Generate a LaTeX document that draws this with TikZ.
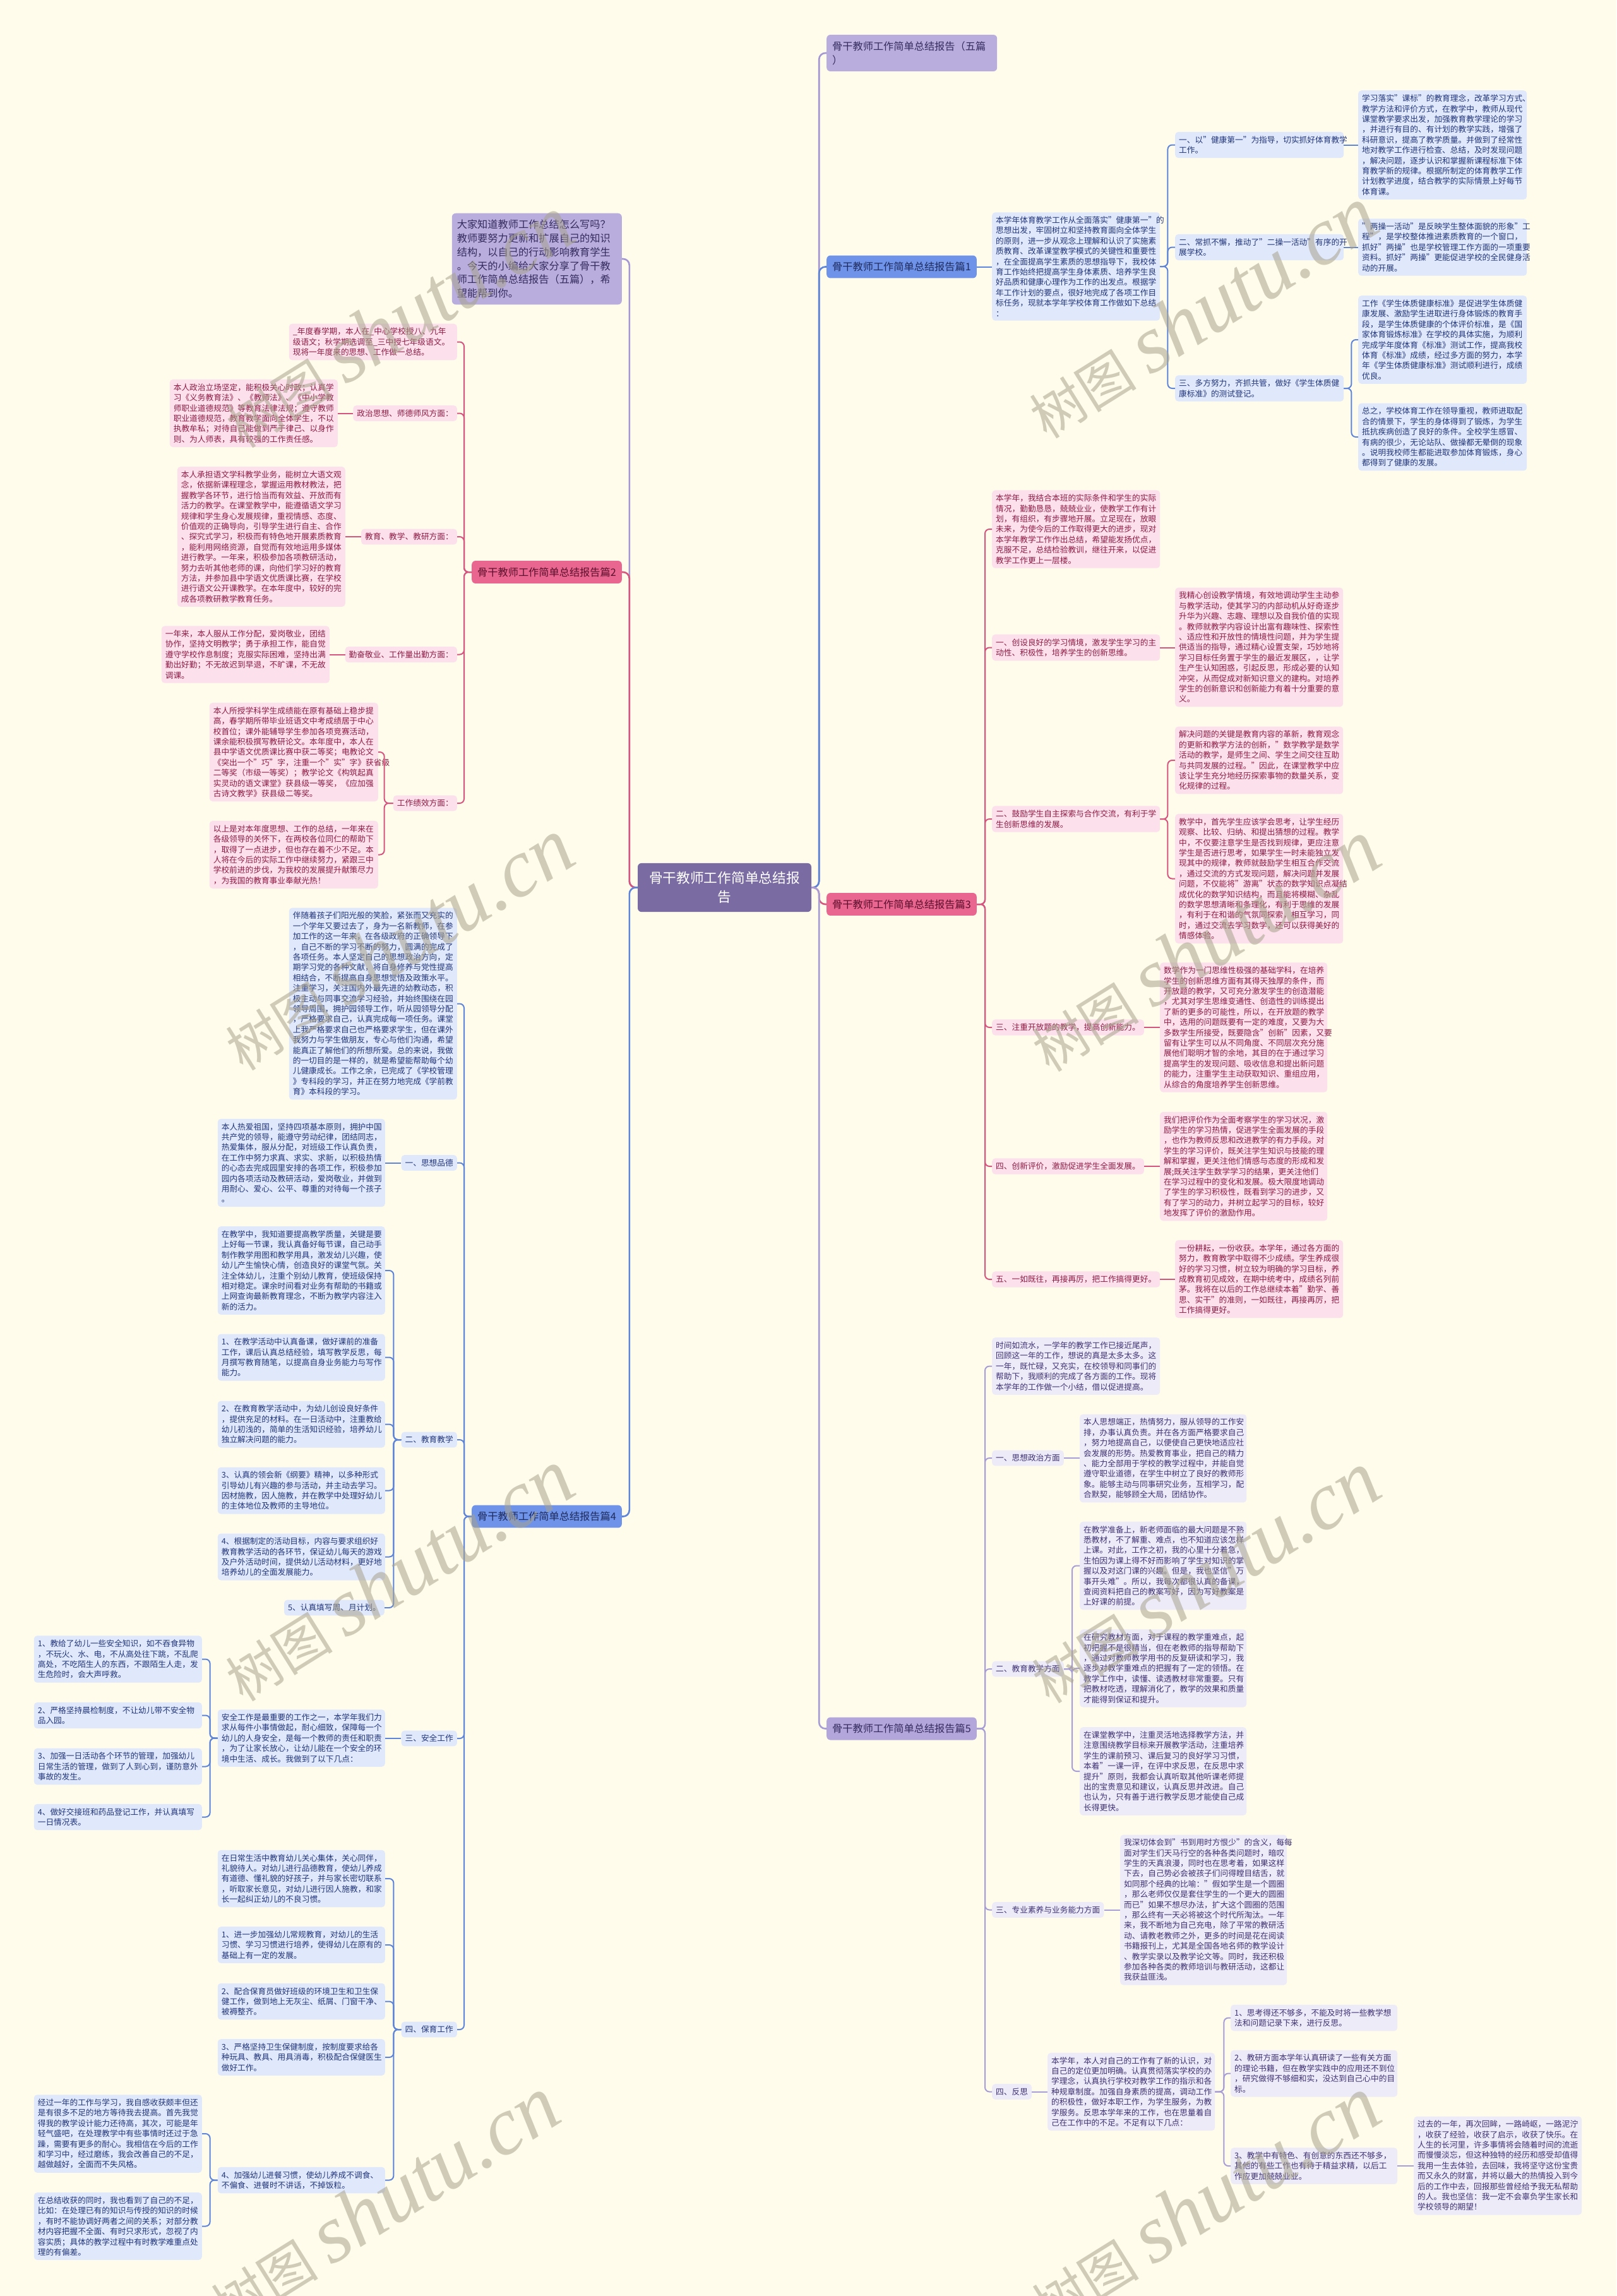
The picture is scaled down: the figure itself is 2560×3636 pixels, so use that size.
\documentclass[tikz,border=0pt]{standalone}
\usepackage{fontspec}
\setmainfont{Noto Sans CJK SC}
\newfontfamily\wmlat{Liberation Serif}
\definecolor{bg}{HTML}{FFFCEB}
\definecolor{rootc}{HTML}{7A6BA2}
\definecolor{pubr}{HTML}{B8ADDC}
\definecolor{pubrt}{HTML}{352B5E}
\definecolor{p5br}{HTML}{B3A6DB}
\definecolor{blbr}{HTML}{6E93E8}
\definecolor{blbrt}{HTML}{1F2B5E}
\definecolor{pkbr}{HTML}{E8668F}
\definecolor{pkbrt}{HTML}{5C0F2C}
\definecolor{pkfill}{HTML}{FCE0EB}
\definecolor{pktext}{HTML}{8E1C46}
\definecolor{blfill}{HTML}{E0E8FB}
\definecolor{bltext}{HTML}{22367A}
\definecolor{pufill}{HTML}{EEEBF9}
\definecolor{putext}{HTML}{3E3272}
\definecolor{cpu}{HTML}{A497D3}
\definecolor{cpk}{HTML}{D6557F}
\definecolor{cbl}{HTML}{5E85D8}
\definecolor{cp5}{HTML}{A89ED6}
\definecolor{wmc}{HTML}{A8A38E}
\tikzset{
  box/.style={rounded corners=5pt, align=left, inner xsep=6pt, inner ysep=6.5pt, font=\fontsize{12.7pt}{16.4pt}\selectfont},
  pkd/.style={box, fill=pkfill, text=pktext},
  bld/.style={box, fill=blfill, text=bltext},
  pud/.style={box, fill=pufill, text=putext},
  brn/.style={rounded corners=6pt, align=left, inner xsep=9pt, inner ysep=10.4pt, font=\fontsize{16.2pt}{21.7pt}\selectfont},
  ea/.style={anchor=east},
  we/.style={anchor=west},
  tw/.style={text width=#1},
  conn/.style={line width=2pt, rounded corners=7pt},
  mainc/.style={line width=2.6pt, rounded corners=10pt},
  wm/.style={text=wmc, text opacity=0.55, anchor=base west, rotate=32, inner sep=0pt}
}
\newcommand{\wmark}{{\fontsize{85pt}{85pt}\selectfont 树图}\hspace{22pt}{\wmlat\itshape\fontsize{130pt}{130pt}\selectfont shutu.cn}}
\begin{document}
\begin{tikzpicture}[x=1pt,y=-1pt]
\fill[bg] (0,0) rectangle (2560,3636);
\useasboundingbox (0,0) rectangle (2560,3636);

% ---------- root ----------
\node[rounded corners=6pt, fill=rootc, text=white, font=\fontsize{21.7pt}{30pt}\selectfont, align=center, text width=241pt, inner xsep=17pt, inner ysep=13.5pt] (root) at (1147.5,1405.5) {骨干教师工作简单总结报\\告};

% ---------- left level 1 ----------
\node[brn, fill=pubr, text=pubrt, ea, tw=253pt, inner xsep=8pt, inner ysep=10.5pt] (intro) at (985,410) {大家知道教师工作总结怎么写吗？\\教师要努力更新和扩展自己的知识\\结构，以自己的行动影响教育学生\\。今天的小编给大家分享了骨干教\\师工作简单总结报告（五篇），希\\望能帮到你。};
\node[brn, fill=pkbr, text=pkbrt, ea] (p2) at (985,906) {骨干教师工作简单总结报告篇2};
\node[brn, fill=blbr, text=blbrt, ea] (p4) at (985,2401.5) {骨干教师工作简单总结报告篇4};

% ---------- right level 1 ----------
\node[brn, fill=pubr, text=pubrt, we, tw=252pt] (t5) at (1309,84) {骨干教师工作简单总结报告（五篇\\）};
\node[brn, fill=blbr, text=blbrt, we] (p1) at (1309,422.5) {骨干教师工作简单总结报告篇1};
\node[brn, fill=pkbr, text=pkbrt, we] (p3) at (1309,1432) {骨干教师工作简单总结报告篇3};
\node[brn, fill=p5br, text=pubrt, we] (p5) at (1309,2737.5) {骨干教师工作简单总结报告篇5};

% ---------- 篇2 ----------
\node[pkd, ea, tw=254pt] (p2a) at (724,541.5) {\_年度春学期，本人在\_中心学校授八、九年\\级语文；秋学期选调至\_三中授七年级语文。\\现将一年度来的思想、工作做一总结。};
\node[pkd, ea] (p2b) at (724,654.5) {政治思想、师德师风方面：};
\node[pkd, ea, tw=254pt] (p2b1) at (535,654.5) {本人政治立场坚定，能积极关心时政；认真学\\习《义务教育法》、《教师法》、《中小学教\\师职业道德规范》等教育法律法规；遵守教师\\职业道德规范，教育教学面向全体学生，不以\\执教牟私；对待自己能做到严于律己、以身作\\则、为人师表，具有较强的工作责任感。};
\node[pkd, ea] (p2c) at (724,850) {教育、教学、教研方面：};
\node[pkd, ea, tw=254pt] (p2c1) at (547,850) {本人承担语文学科教学业务，能树立大语文观\\念，依据新课程理念，掌握运用教材教法，把\\握教学各环节，进行恰当而有效益、开放而有\\活力的教学。在课堂教学中，能遵循语文学习\\规律和学生身心发展规律，重视情感、态度、\\价值观的正确导向，引导学生进行自主、合作\\、探究式学习，积极而有特色地开展素质教育\\，能利用网络资源，自觉而有效地运用多媒体\\进行教学。一年来，积极参加各项教研活动，\\努力去听其他老师的课，向他们学习好的教育\\方法，并参加县中学语文优质课比赛，在学校\\进行语文公开课教学。在本年度中，较好的完\\成各项教研教学教育任务。};
\node[pkd, ea] (p2d) at (724,1036.5) {勤奋敬业、工作量出勤方面：};
\node[pkd, ea, tw=254pt] (p2d1) at (522,1036.5) {一年来，本人服从工作分配，爱岗敬业，团结\\协作，坚持文明教学；勇于承担工作，能自觉\\遵守学校作息制度；克服实际困难，坚持出满\\勤出好勤；不无故迟到早退，不旷课，不无故\\调课。};
\node[pkd, ea] (p2e) at (724,1272) {工作绩效方面：};
\node[pkd, ea, tw=255pt] (p2e1) at (599,1191) {本人所授学科学生成绩能在原有基础上稳步提\\高，春学期所带毕业班语文中考成绩居于中心\\校首位；课外能辅导学生参加各项竞赛活动，\\课余能积极撰写教研论文。本年度中，本人在\\县中学语文优质课比赛中获二等奖；电教论文\\《突出一个"巧"字，注重一个"实"字》获省级\\二等奖（市级一等奖）；教学论文《构筑起真\\实灵动的语文课堂》获县级一等奖，《应加强\\古诗文教学》获县级二等奖。};
\node[pkd, ea, tw=255pt] (p2e2) at (599,1353.5) {以上是对本年度思想、工作的总结，一年来在\\各级领导的关怀下，在两校各位同仁的帮助下\\，取得了一点进步，但也存在着不少不足。本\\人将在今后的实际工作中继续努力，紧跟三中\\学校前进的步伐，为我校的发展提升献策尽力\\，为我国的教育事业奉献光热！};

% ---------- 篇4 ----------
\node[bld, ea, tw=254pt] (p4a) at (724,1589.5) {伴随着孩子们阳光般的笑脸，紧张而又充实的\\一个学年又要过去了，身为一名新教师，在参\\加工作的这一年来，在各级政府的正确领导下\\，自己不断的学习不断的努力，圆满的完成了\\各项任务。本人坚定自己的思想政治方向，定\\期学习党的各种文献，将自身修养与党性提高\\相结合，不断提高自身思想觉悟及政策水平。\\注重学习，关注国内外最先进的幼教动态，积\\极主动与同事交流学习经验，并始终围绕在园\\领导周围，拥护园领导工作，听从园领导分配\\，严格要求自己，认真完成每一项任务。课堂\\上我严格要求自己也严格要求学生，但在课外\\我努力与学生做朋友，专心与他们沟通，希望\\能真正了解他们的所想所爱。总的来说，我做\\的一切目的是一样的，就是希望能帮助每个幼\\儿健康成长。工作之余，已完成了《学校管理\\》专科段的学习，并正在努力地完成《学前教\\育》本科段的学习。};
\node[bld, ea] (p4b) at (724,1841.5) {一、思想品德};
\node[bld, ea, tw=253pt] (p4b1) at (610,1841.5) {本人热爱祖国，坚持四项基本原则，拥护中国\\共产党的领导，能遵守劳动纪律，团结同志，\\热爱集体，服从分配，对班级工作认真负责，\\在工作中努力求真、求实、求新，以积极热情\\的心态去完成园里安排的各项工作，积极参加\\园内各项活动及教研活动，爱岗敬业，并做到\\用耐心、爱心、公平、尊重的对待每一个孩子\\。};
\node[bld, ea] (p4c) at (724,2280) {二、教育教学};
\node[bld, ea, tw=253pt] (p4c1) at (610,2012) {在教学中，我知道要提高教学质量，关键是要\\上好每一节课，我认真备好每节课，自己动手\\制作教学用图和教学用具，激发幼儿兴趣，使\\幼儿产生愉快心情，创造良好的课堂气氛。关\\注全体幼儿，注重个别幼儿教育，使班级保持\\相对稳定。课余时间看对业务有帮助的书籍或\\上网查询最新教育理念，不断为教学内容注入\\新的活力。};
\node[bld, ea, tw=253pt] (p4c2) at (610,2149.5) {1、在教学活动中认真备课，做好课前的准备\\工作，课后认真总结经验，填写教学反思，每\\月撰写教育随笔，以提高自身业务能力与写作\\能力。};
\node[bld, ea, tw=253pt] (p4c3) at (610,2255.5) {2、在教育教学活动中，为幼儿创设良好条件\\，提供充足的材料。在一日活动中，注重教给\\幼儿初浅的，简单的生活知识经验，培养幼儿\\独立解决问题的能力。};
\node[bld, ea, tw=253pt] (p4c4) at (610,2360.5) {3、认真的领会新《纲要》精神，以多种形式\\引导幼儿有兴趣的参与活动，并主动去学习。\\因材施教，因人施教，并在教学中处理好幼儿\\的主体地位及教师的主导地位。};
\node[bld, ea, tw=253pt] (p4c5) at (610,2465.5) {4、根据制定的活动目标，内容与要求组织好\\教育教学活动的各环节，保证幼儿每天的游戏\\及户外活动时间，提供幼儿活动材料，更好地\\培养幼儿的全面发展能力。};
\node[bld, ea] (p4c6) at (609,2546) {5、认真填写周、月计划。};
\node[bld, ea] (p4d) at (724,2753) {三、安全工作};
\node[bld, ea, tw=253pt] (p4d1) at (610,2752.5) {安全工作是最重要的工作之一，本学年我们力\\求从每件小事情做起，耐心细致，保障每一个\\幼儿的人身安全，是每一个教师的责任和职责\\，为了让家长放心，让幼儿能在一个安全的环\\境中生活、成长。我做到了以下几点：};
\node[bld, ea, tw=254pt] (p4d1a) at (320,2627.5) {1、教给了幼儿一些安全知识，如不吞食异物\\，不玩火、水、电，不从高处往下跳，不乱爬\\高处，不吃陌生人的东西，不跟陌生人走，发\\生危险时，会大声呼救。};
\node[bld, ea, tw=254pt] (p4d1b) at (320,2716.5) {2、严格坚持晨检制度，不让幼儿带不安全物\\品入园。};
\node[bld, ea, tw=254pt] (p4d1c) at (320,2797.5) {3、加强一日活动各个环节的管理，加强幼儿\\日常生活的管理，做到了人到心到，谨防意外\\事故的发生。};
\node[bld, ea, tw=254pt] (p4d1d) at (320,2877.5) {4、做好交接班和药品登记工作，并认真填写\\一日情况表。};
\node[bld, ea] (p4e) at (724,3214) {四、保育工作};
\node[bld, ea, tw=253pt] (p4e1) at (610,2975) {在日常生活中教育幼儿关心集体，关心同伴，\\礼貌待人。对幼儿进行品德教育，使幼儿养成\\有道德、懂礼貌的好孩子，并与家长密切联系\\，听取家长意见，对幼儿进行因人施教，和家\\长一起纠正幼儿的不良习惯。};
\node[bld, ea, tw=253pt] (p4e2) at (610,3080) {1、进一步加强幼儿常规教育，对幼儿的生活\\习惯、学习习惯进行培养，使得幼儿在原有的\\基础上有一定的发展。};
\node[bld, ea, tw=253pt] (p4e3) at (610,3169.5) {2、配合保育员做好班级的环境卫生和卫生保\\健工作，做到地上无灰尘、纸屑、门窗干净、\\被褥整齐。};
\node[bld, ea, tw=253pt] (p4e4) at (610,3258) {3、严格坚持卫生保健制度，按制度要求给各\\种玩具、教具、用具消毒，积极配合保健医生\\做好工作。};
\node[bld, ea, tw=253pt] (p4e5) at (610,3452.5) {4、加强幼儿进餐习惯，使幼儿养成不调食、\\不偏食、进餐时不讲话，不掉饭粒。};
\node[bld, ea, tw=254pt] (p4e5a) at (320,3379) {经过一年的工作与学习，我自感收获颇丰但还\\是有很多不足的地方等待我去提高。首先我觉\\得我的教学设计能力还待高，其次，可能是年\\轻气盛吧，在处理教学中有些事情时还过于急\\躁，需要有更多的耐心。我相信在今后的工作\\和学习中，经过磨练，我会改善自己的不足，\\越做越好，全面而不失风格。};
\node[bld, ea, tw=254pt] (p4e5b) at (320,3525.5) {在总结收获的同时，我也看到了自己的不足，\\比如：在处理已有的知识与传授的知识的时候\\，有时不能协调好两者之间的关系；对部分教\\材内容把握不全面、有时只求形式，忽视了内\\容实质；具体的教学过程中有时教学难重点处\\理的有偏差。};

% ---------- 篇1 ----------
\node[bld, we, tw=254pt] (p1a) at (1571,422) {本学年体育教学工作从全面落实"健康第一"的\\思想出发，牢固树立和坚持教育面向全体学生\\的原则，进一步从观念上理解和认识了实施素\\质教育、改革课堂教学模式的关键性和重要性\\，在全面提高学生素质的思想指导下，我校体\\育工作始终把提高学生身体素质、培养学生良\\好品质和健康心理作为工作的出发点。根据学\\年工作计划的要点，很好地完成了各项工作目\\标任务，现就本学年学校体育工作做如下总结\\：};
\node[bld, we, tw=255pt] (p1a1) at (1861,229.5) {一、以"健康第一"为指导，切实抓好体育教学\\工作。};
\node[bld, we, tw=255pt] (p1a1a) at (2151,229.5) {学习落实"课标"的教育理念，改革学习方式、\\教学方法和评价方式，在教学中，教师从现代\\课堂教学要求出发，加强教育教学理论的学习\\，并进行有目的、有计划的教学实践，增强了\\科研意识，提高了教学质量。并做到了经常性\\地对教学工作进行检查、总结，及时发现问题\\，解决问题，逐步认识和掌握新课程标准下体\\育教学新的规律。根据所制定的体育教学工作\\计划教学进度，结合教学的实际情景上好每节\\体育课。};
\node[bld, we, tw=255pt] (p1a2) at (1861,391.5) {二、常抓不懈，推动了"二操一活动"有序的开\\展学校。};
\node[bld, we, tw=255pt] (p1a2a) at (2151,391.5) {"两操一活动"是反映学生整体面貌的形象"工\\程"，是学校整体推进素质教育的一个窗口，\\抓好"两操"也是学校管理工作方面的一项重要\\资料。抓好"两操"更能促进学校的全民健身活\\动的开展。};
\node[bld, we, tw=255pt] (p1a3) at (1861,615) {三、多方努力，齐抓共管，做好《学生体质健\\康标准》的测试登记。};
\node[bld, we, tw=255pt] (p1a3a) at (2151,538) {工作《学生体质健康标准》是促进学生体质健\\康发展、激励学生进取进行身体锻炼的教育手\\段，是学生体质健康的个体评价标准，是《国\\家体育锻炼标准》在学校的具体实施，为顺利\\完成学年度体育《标准》测试工作，提高我校\\体育《标准》成绩，经过多方面的努力，本学\\年《学生体质健康标准》测试顺利进行，成绩\\优良。};
\node[bld, we, tw=255pt] (p1a3b) at (2151,692) {总之，学校体育工作在领导重视，教师进取配\\合的情景下，学生的身体得到了锻炼，为学生\\抵抗疾病创造了良好的条件。全校学生感冒、\\有病的很少，无论站队、做操都无晕倒的现象\\。说明我校师生都能进取参加体育锻炼，身心\\都得到了健康的发展。};

% ---------- 篇3 ----------
\node[pkd, we, tw=254pt] (p3a) at (1571,838) {本学年，我结合本班的实际条件和学生的实际\\情况，勤勤恳恳，兢兢业业，使教学工作有计\\划，有组织，有步骤地开展。立足现在，放眼\\未来，为使今后的工作取得更大的进步，现对\\本学年教学工作作出总结，希望能发扬优点，\\克服不足，总结检验教训，继往开来，以促进\\教学工作更上一层楼。};
\node[pkd, we, tw=254pt] (p3b) at (1571,1025.5) {一、创设良好的学习情境，激发学生学习的主\\动性、积极性，培养学生的创新思维。};
\node[pkd, we, tw=254pt] (p3b1) at (1861,1025) {我精心创设教学情境，有效地调动学生主动参\\与教学活动，使其学习的内部动机从好奇逐步\\升华为兴趣、志趣、理想以及自我价值的实现\\。教师就教学内容设计出富有趣味性、探索性\\、适应性和开放性的情境性问题，并为学生提\\供适当的指导，通过精心设置支架，巧妙地将\\学习目标任务置于学生的最近发展区，，让学\\生产生认知困惑，引起反思，形成必要的认知\\冲突，从而促成对新知识意义的建构。对培养\\学生的创新意识和创新能力有着十分重要的意\\义。};
\node[pkd, we, tw=254pt] (p3c) at (1571,1297) {二、鼓励学生自主探索与合作交流，有利于学\\生创新思维的发展。};
\node[pkd, we, tw=254pt] (p3c1) at (1861,1204) {解决问题的关键是教育内容的革新，教育观念\\的更新和教学方法的创新，"数学教学是数学\\活动的教学，是师生之间、学生之间交往互助\\与共同发展的过程。"因此，在课堂教学中应\\该让学生充分地经历探索事物的数量关系，变\\化规律的过程。};
\node[pkd, we, tw=254pt] (p3c2) at (1861,1391.5) {教学中，首先学生应该学会思考，让学生经历\\观察、比较、归纳、和提出猜想的过程。教学\\中，不仅要注意学生是否找到规律，更应注意\\学生是否进行思考，如果学生一时未能独立发\\现其中的规律，教师就鼓励学生相互合作交流\\，通过交流的方式发现问题，解决问题并发展\\问题，不仅能将"游离"状态的数学知识点凝结\\成优化的数学知识结构，而且能将模糊、杂乱\\的数学思想清晰和条理化，有利于思维的发展\\，有利于在和谐的气氛同探索，相互学习，同\\时，通过交流去学习数学，还可以获得美好的\\情感体验。};
\node[pkd, we] (p3d) at (1571,1627) {三、注重开放题的教学，提高创新能力。};
\node[pkd, we, tw=253pt] (p3d1) at (1837,1627) {数学作为一门思维性极强的基础学科，在培养\\学生的创新思维方面有其得天独厚的条件，而\\开放题的教学，又可充分激发学生的创造潜能\\，尤其对学生思维变通性、创造性的训练提出\\了新的更多的可能性，所以，在开放题的教学\\中，选用的问题既要有一定的难度，又要为大\\多数学生所接受，既要隐含"创新"因素，又要\\留有让学生可以从不同角度、不同层次充分施\\展他们聪明才智的余地，其目的在于通过学习\\提高学生的发现问题、吸收信息和提出新问题\\的能力，注重学生主动获取知识、重组应用，\\从综合的角度培养学生创新思维。};
\node[pkd, we] (p3e) at (1571,1847) {四、创新评价，激励促进学生全面发展。};
\node[pkd, we, tw=253pt] (p3e1) at (1837,1847) {我们把评价作为全面考察学生的学习状况，激\\励学生的学习热情，促进学生全面发展的手段\\，也作为教师反思和改进教学的有力手段。对\\学生的学习评价，既关注学生知识与技能的理\\解和掌握，更关注他们情感与态度的形成和发\\展;既关注学生数学学习的结果，更关注他们\\在学习过程中的变化和发展。极大限度地调动\\了学生的学习积极性，既看到学习的进步，又\\有了学习的动力，并树立起学习的目标，较好\\地发挥了评价的激励作用。};
\node[pkd, we] (p3f) at (1571,2026) {五、一如既往，再接再厉，把工作搞得更好。};
\node[pkd, we, tw=254pt] (p3f1) at (1861,2025.5) {一份耕耘，一份收获。本学年，通过各方面的\\努力，教育教学中取得不少成绩。学生养成很\\好的学习习惯，树立较为明确的学习目标，养\\成教育初见成效，在期中统考中，成绩名列前\\茅。我将在以后的工作总继续本着"勤学、善\\思、实干"的准则，一如既往，再接再厉，把\\工作搞得更好。};

% ---------- 篇5 ----------
\node[pud, we, tw=254pt] (p5a) at (1571,2163.5) {时间如流水，一学年的教学工作已接近尾声，\\回顾这一年的工作，想说的真是太多太多。这\\一年，既忙碌，又充实，在校领导和同事们的\\帮助下，我顺利的完成了各方面的工作。现将\\本学年的工作做一个小结，借以促进提高。};
\node[pud, we] (p5b) at (1571,2309) {一、思想政治方面};
\node[pud, we, tw=252pt] (p5b1) at (1710,2309.5) {本人思想端正，热情努力，服从领导的工作安\\排，办事认真负责。并在各方面严格要求自己\\，努力地提高自己，以便使自己更快地适应社\\会发展的形势。热爱教育事业，把自己的精力\\、能力全部用于学校的教学过程中，并能自觉\\遵守职业道德，在学生中树立了良好的教师形\\象。能够主动与同事研究业务，互相学习，配\\合默契，能够顾全大局，团结协作。};
\node[pud, we] (p5c) at (1571,2643) {二、教育教学方面};
\node[pud, we, tw=252pt] (p5c1) at (1710,2479.5) {在教学准备上，新老师面临的最大问题是不熟\\悉教材，不了解重、难点，也不知道应该怎样\\上课。对此，工作之初，我的心里十分着急，\\生怕因为课上得不好而影响了学生对知识的掌\\握以及对这门课的兴趣。但是，我也坚信"万\\事开头难"。所以，我每次都很认真的备课，\\查阅资料把自己的教案写好，因为写好教案是\\上好课的前提。};
\node[pud, we, tw=252pt] (p5c2) at (1710,2642) {在研究教材方面，对于课程的教学重难点，起\\初把握不是很精当，但在老教师的指导帮助下\\，通过对教师教学用书的反复研读和学习，我\\逐步对教学重难点的把握有了一定的领悟。在\\教学工作中，读懂、读透教材非常重要。只有\\把教材吃透，理解消化了，教学的效果和质量\\才能得到保证和提升。};
\node[pud, we, tw=252pt] (p5c3) at (1710,2805) {在课堂教学中，注重灵活地选择教学方法，并\\注意围绕教学目标来开展教学活动，注重培养\\学生的课前预习、课后复习的良好学习习惯，\\本着"一课一评，在评中求反思，在反思中求\\提升"原则，我都会认真听取其他听课老师提\\出的宝贵意见和建议，认真反思并改进。自己\\也认为，只有善于进行教学反思才能使自己成\\长得更快。};
\node[pud, we] (p5d) at (1571,3024.5) {三、专业素养与业务能力方面};
\node[pud, we, tw=252pt] (p5d1) at (1774,3024.5) {我深切体会到"书到用时方恨少"的含义，每每\\面对学生们天马行空的各种各类问题时，暗叹\\学生的天真浪漫，同时也在思考着，如果这样\\下去，自己势必会被孩子们问得瞠目结舌，就\\如同那个经典的比喻："假如学生是一个圆圈\\，那么老师仅仅是套住学生的一个更大的圆圈\\而已"如果不想尽办法，扩大这个圆圈的范围\\，那么终有一天必将被这个时代所淘汰。一年\\来，我不断地为自己充电，除了平常的教研活\\动、请教老教师之外，更多的时间是花在阅读\\书籍报刊上，尤其是全国各地名师的教学设计\\、教学实录以及教学论文等。同时，我还积极\\参加各种各类的教师培训与教研活动，这都让\\我获益匪浅。};
\node[pud, we] (p5e) at (1571,3312.5) {四、反思};
\node[pud, we, tw=253pt] (p5e1) at (1659,3312.5) {本学年，本人对自己的工作有了新的认识，对\\自己的定位更加明确。认真贯彻落实学校的办\\学理念，认真执行学校对教学工作的指示和各\\种规章制度。加强自身素质的提高，调动工作\\的积极性，做好本职工作，为学生服务，为教\\学服务。反思本学年来的工作，也在思量着自\\己在工作中的不足。不足有以下几点：};
\node[pud, we, tw=252pt] (p5e1a) at (1949,3195.5) {1、思考得还不够多，不能及时将一些教学想\\法和问题记录下来，进行反思。};
\node[pud, we, tw=252pt] (p5e1b) at (1949,3283.5) {2、教研方面本学年认真研读了一些有关方面\\的理论书籍，但在教学实践中的应用还不到位\\，研究做得不够细和实，没达到自己心中的目\\标。};
\node[pud, we, tw=252pt] (p5e1c) at (1949,3430) {3、教学中有特色、有创意的东西还不够多，\\其他的有些工作也有待于精益求精，以后工\\作应更加兢兢业业。};
\node[pud, we, tw=254pt] (p5e1c1) at (2239,3429.5) {过去的一年，再次回眸，一路崎岖，一路泥泞\\，收获了经验，收获了启示，收获了快乐。在\\人生的长河里，许多事情将会随着时间的流逝\\而慢慢淡忘，但这种独特的经历和感受却值得\\我用一生去体验，去回味，我将坚守这份宝贵\\而又永久的财富，并将以最大的热情投入到今\\后的工作中去，回报那些曾经给予我无私帮助\\的人。我也坚信：我一定不会辜负学生家长和\\学校领导的期望！};

% ---------- connectors: root ----------
\draw[mainc, cpu] (root.west) -- ++(-13,0) |- (intro.east);
\draw[mainc, cpk] (root.west) -- ++(-13,0) |- (p2.east);
\draw[mainc, cbl] (root.west) -- ++(-13,0) |- (p4.east);
\draw[mainc, cpu] (root.east) -- ++(12,0) |- (t5.west);
\draw[mainc, cbl] (root.east) -- ++(12,0) |- (p1.west);
\draw[mainc, cpk] (root.east) -- ++(12,0) |- (p3.west);
\draw[mainc, cp5] (root.east) -- ++(12,0) |- (p5.west);

% ---------- connectors: 篇2 ----------
\foreach \c in {p2a,p2b,p2c,p2d,p2e} \draw[conn, cpk] (p2.west) -- ++(-12,0) |- (\c.east);
\draw[conn, cpk] (p2b.west) -- (p2b1.east |- p2b.west);
\draw[conn, cpk] (p2c.west) -- (p2c1.east |- p2c.west);
\draw[conn, cpk] (p2d.west) -- (p2d1.east |- p2d.west);
\foreach \c in {p2e1,p2e2} \draw[conn, cpk] (p2e.west) -- ++(-14,0) |- (\c.east);

% ---------- connectors: 篇4 ----------
\foreach \c in {p4a,p4b,p4c,p4d,p4e} \draw[conn, cbl] (p4.west) -- ++(-12,0) |- (\c.east);
\draw[conn, cbl] (p4b.west) -- (p4b1.east |- p4b.west);
\foreach \c in {p4c1,p4c2,p4c3,p4c4,p4c5,p4c6} \draw[conn, cbl] (p4c.west) -- ++(-12,0) |- (\c.east);
\draw[conn, cbl] (p4d.west) -- (p4d1.east |- p4d.west);
\foreach \c in {p4d1a,p4d1b,p4d1c,p4d1d} \draw[conn, cbl] (p4d1.west) -- ++(-12,0) |- (\c.east);
\foreach \c in {p4e1,p4e2,p4e3,p4e4,p4e5} \draw[conn, cbl] (p4e.west) -- ++(-12,0) |- (\c.east);
\foreach \c in {p4e5a,p4e5b} \draw[conn, cbl] (p4e5.west) -- ++(-12,0) |- (\c.east);

% ---------- connectors: 篇1 ----------
\draw[conn, cbl] (p1.east) -- (p1a.west |- p1.east);
\foreach \c in {p1a1,p1a2,p1a3} \draw[conn, cbl] (p1a.east) -- ++(12,0) |- (\c.west);
\draw[conn, cbl] (p1a1.east) -- (p1a1a.west |- p1a1.east);
\draw[conn, cbl] (p1a2.east) -- (p1a2a.west |- p1a2.east);
\foreach \c in {p1a3a,p1a3b} \draw[conn, cbl] (p1a3.east) -- ++(12,0) |- (\c.west);

% ---------- connectors: 篇3 ----------
\foreach \c in {p3a,p3b,p3c,p3d,p3e,p3f} \draw[conn, cpk] (p3.east) -- ++(13,0) |- (\c.west);
\draw[conn, cpk] (p3b.east) -- (p3b1.west |- p3b.east);
\foreach \c in {p3c1,p3c2} \draw[conn, cpk] (p3c.east) -- ++(12,0) |- (\c.west);
\draw[conn, cpk] (p3d.east) -- (p3d1.west |- p3d.east);
\draw[conn, cpk] (p3e.east) -- (p3e1.west |- p3e.east);
\draw[conn, cpk] (p3f.east) -- (p3f1.west |- p3f.east);

% ---------- connectors: 篇5 ----------
\foreach \c in {p5a,p5b,p5c,p5d,p5e} \draw[conn, cp5] (p5.east) -- ++(13,0) |- (\c.west);
\draw[conn, cp5] (p5b.east) -- (p5b1.west |- p5b.east);
\foreach \c in {p5c1,p5c2,p5c3} \draw[conn, cp5] (p5c.east) -- ++(13,0) |- (\c.west);
\draw[conn, cp5] (p5d.east) -- (p5d1.west |- p5d.east);
\draw[conn, cp5] (p5e.east) -- (p5e1.west |- p5e.east);
\foreach \c in {p5e1a,p5e1b,p5e1c} \draw[conn, cp5] (p5e1.east) -- ++(14,0) |- (\c.west);
\draw[conn, cp5] (p5e1c.east) -- (p5e1c1.west |- p5e1c.east);

% ---------- watermarks ----------
\node[wm] at (385,712) {\wmark};
\node[wm] at (385,1698) {\wmark};
\node[wm] at (385,2697) {\wmark};
\node[wm] at (362,3690) {\wmark};
\node[wm] at (1658,697) {\wmark};
\node[wm] at (1662,1700) {\wmark};
\node[wm] at (1662,2700) {\wmark};
\node[wm] at (1662,3690) {\wmark};
\end{tikzpicture}
\end{document}
